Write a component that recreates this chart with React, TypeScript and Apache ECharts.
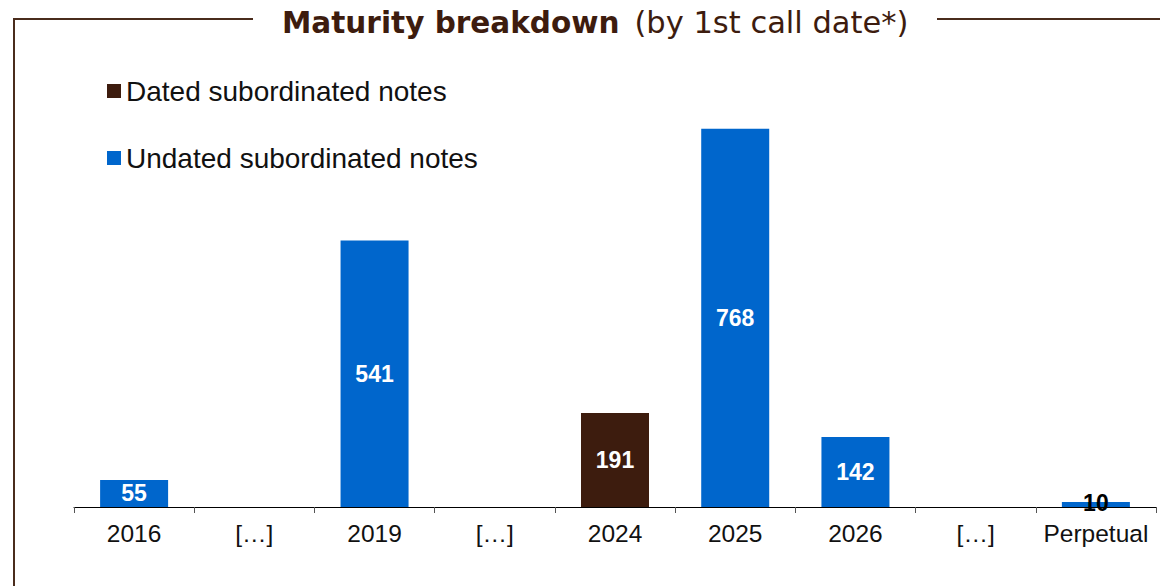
import React, { useEffect, useRef } from "react";
import * as echarts from "echarts";

const categories = ["2016", "[…]", "2019", "[…]", "2024", "2025", "2026", "[…]", "Perpetual"];
const datedValues: (number | null)[] = [null, null, null, null, 191, null, null, null, null];
const undatedValues: (number | null)[] = [55, null, 541, null, null, 768, 142, null, 10];
const seriesNames = ["Dated subordinated notes", "Undated subordinated notes"];

const BROWN = "#3d1c0e";
const BLUE = "#0066cc";
const FRAME = "#4a2c1c";

export default function App() {
  const ref = useRef<HTMLDivElement>(null);
  useEffect(() => {
    document.body.style.margin = "0";
    const chart = echarts.init(ref.current!, null, { renderer: "svg" });
    const labelBase = {
      show: true,
      position: "inside",
      color: "#ffffff",
      fontFamily: "Liberation Sans, Arial, sans-serif",
      fontWeight: "bold",
      fontSize: 23,
    };
    const undatedData = undatedValues.map((v) =>
      v !== null && v < 30
        ? { value: v, label: { color: "#000000", offset: [0, -2] } }
        : v
    );
    chart.setOption({
      animation: false,
      title: {
        text: "{b|Maturity breakdown}{n|(by 1st call date*)}",
        left: 277,
        top: 2,
        textStyle: {
          rich: {
            b: { fontFamily: "DejaVu Sans", fontWeight: "bold", fontSize: 29.5, color: BROWN },
            n: { fontFamily: "DejaVu Sans", fontWeight: "normal", fontSize: 30.5, color: BROWN, padding: [0, 0, 0, 15] },
          },
        },
      },
      graphic: [
        { type: "line", shape: { x1: 14, y1: 19, x2: 253, y2: 19 }, style: { stroke: FRAME, lineWidth: 2 } },
        { type: "line", shape: { x1: 14, y1: 18, x2: 14, y2: 586 }, style: { stroke: FRAME, lineWidth: 2 } },
        { type: "line", shape: { x1: 937, y1: 19, x2: 1160, y2: 19 }, style: { stroke: FRAME, lineWidth: 2 } },
      ],
      legend: {
        orient: "vertical",
        left: 107,
        top: 77,
        padding: 0,
        itemWidth: 14,
        itemHeight: 14,
        itemGap: 39,
        icon: "rect",
        data: seriesNames,
        textStyle: {
          fontFamily: "Liberation Sans, Arial, sans-serif",
          fontSize: 28,
          color: "#111111",
        },
      },
      grid: { left: 74, right: 4, top: 113, bottom: 79 },
      xAxis: {
        type: "category",
        data: categories,
        axisLine: { lineStyle: { color: "#000000", width: 1 } },
        axisTick: { show: true, length: 6, lineStyle: { color: "#555555" } },
        axisLabel: {
          color: "#111111",
          fontFamily: "Liberation Sans, Arial, sans-serif",
          fontSize: 24.5,
          margin: 14,
          interval: 0,
        },
      },
      yAxis: {
        type: "value",
        min: 0,
        max: 800,
        show: false,
        splitLine: { show: false },
      },
      series: [
        {
          name: seriesNames[0],
          type: "bar",
          stack: "s",
          barWidth: 68,
          itemStyle: { color: BROWN },
          label: labelBase,
          data: datedValues,
        },
        {
          name: seriesNames[1],
          type: "bar",
          stack: "s",
          barWidth: 68,
          itemStyle: { color: BLUE },
          label: labelBase,
          data: undatedData,
        },
      ],
    });
    return () => chart.dispose();
  }, []);
  return <div ref={ref} style={{ width: 1160, height: 586 }} />;
}
